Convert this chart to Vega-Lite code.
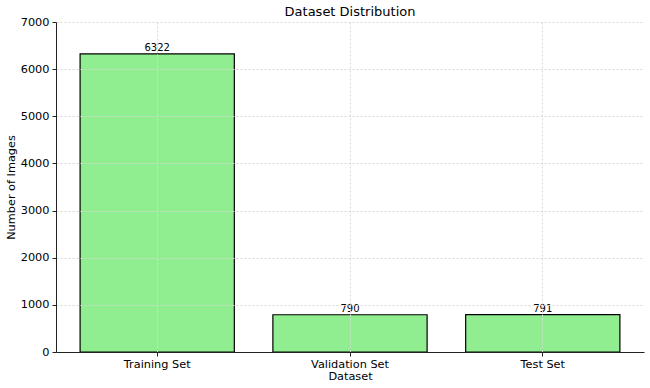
{
  "$schema": "https://vega.github.io/schema/vega-lite/v6.json",
  "width": 588,
  "height": 330,
  "autosize": {"type": "none"},
  "padding": {"left": 56, "top": 22, "right": 6, "bottom": 36},
  "background": "white",
  "config": {
    "view": {"stroke": null},
    "font": "DejaVu Sans",
    "axis": {
      "labelFont": "DejaVu Sans",
      "titleFont": "DejaVu Sans",
      "labelFontSize": 11.3,
      "titleFontSize": 11.3,
      "titleFontWeight": "normal",
      "labelColor": "#000",
      "titleColor": "#000",
      "domainColor": "#222",
      "domainWidth": 1,
      "tickColor": "#222",
      "tickSize": 4,
      "gridColor": "#d8d8d8",
      "gridDash": [2, 2],
      "gridWidth": 1
    }
  },
  "title": {
    "text": "Dataset Distribution",
    "font": "DejaVu Sans",
    "fontSize": 13,
    "fontWeight": "normal",
    "color": "#000",
    "offset": -3
  },
  "data": {
    "values": [
      {"set": "Training Set", "count": 6322},
      {"set": "Validation Set", "count": 790},
      {"set": "Test Set", "count": 791}
    ]
  },
  "encoding": {
    "x": {
      "field": "set",
      "type": "nominal",
      "sort": null,
      "title": "Dataset",
      "scale": {"paddingInner": 0.2, "paddingOuter": 0.125},
      "axis": {"labelAngle": 0, "grid": true, "bandPosition": 0.5, "zindex": 1, "labelPadding": 2, "titlePadding": 1}
    },
    "y": {
      "field": "count",
      "type": "quantitative",
      "title": "Number of Images",
      "scale": {"domain": [0, 7000], "nice": false},
      "axis": {"values": [0, 1000, 2000, 3000, 4000, 5000, 6000, 7000], "format": "d", "grid": true, "zindex": 1, "labelPadding": 3, "titlePadding": 4}
    }
  },
  "layer": [
    {
      "mark": {"type": "bar", "fill": "#90EE90", "stroke": "#000", "strokeWidth": 1.2}
    },
    {
      "mark": {"type": "text", "baseline": "bottom", "dy": -1, "fontSize": 10, "font": "DejaVu Sans", "color": "#000"},
      "encoding": {"text": {"field": "count", "type": "quantitative"}}
    }
  ]
}
